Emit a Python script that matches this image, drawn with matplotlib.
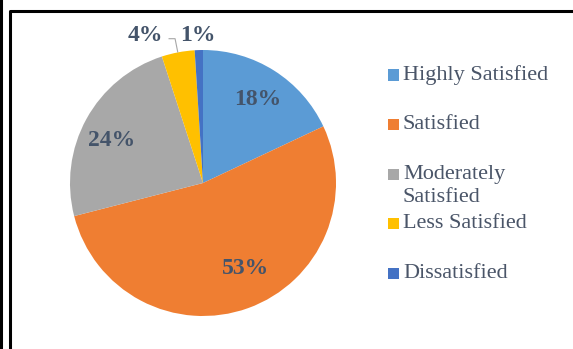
import matplotlib
matplotlib.use("Agg")
import matplotlib.pyplot as plt
from matplotlib.lines import Line2D
from matplotlib.patches import Rectangle

categorias = ["Highly Satisfied", "Satisfied", "Moderately\nSatisfied", "Less Satisfied", "Dissatisfied"]
valores = [18, 53, 24, 4, 1]
cores = ["#5B9BD5", "#EF7E32", "#A8A8A8", "#FFC000", "#4472C4"]

# where the percentage labels sit (pie radius = 1)
pos_rotulos = [(0.41, 0.63), (0.32, -0.64), (-0.69, 0.32), (-0.43, 1.11), (-0.04, 1.11)]

W, H = 573, 349
fig = plt.figure(figsize=(W / 100, H / 100), dpi=100)
fig.patch.set_facecolor("white")

# pie centre ~ (203, 183) px, radius ~133 px
cx, cy, r = 203, 183, 133
ax = fig.add_axes([(cx - r) / W, (H - cy - r) / H, 2 * r / W, 2 * r / H])
wedges, textos, pcts = ax.pie(valores, colors=cores, startangle=90, counterclock=False,
                              autopct="%1.0f%%",
                              textprops=dict(family="Liberation Serif", fontsize=17,
                                             fontweight="bold", color="#44546A"))
ax.set_xlim(-1, 1)
ax.set_ylim(-1, 1)
ax.set_aspect("equal")

for t, p in zip(pcts, pos_rotulos):
    t.set_position(p)

# leader line for the 4% slice
ax.plot([-0.255, -0.21, -0.19], [1.085, 1.085, 0.985], color="#A6A6A6", lw=0.8, clip_on=False)

# legend, drawn by hand
for i, (nome, cor) in enumerate(zip(categorias, cores)):
    y = 75 + 49.5 * i
    fig.add_artist(Rectangle((388 / W, (H - y - 5.5) / H), 11 / W, 11 / H,
                             facecolor=cor, edgecolor="none", transform=fig.transFigure))
    linhas = nome.split("\n")
    for j, linha in enumerate(linhas):
        fig.text(403 / W, (H - y - 23 * j) / H, linha, family="Liberation Serif",
                 fontsize=16, color="#4A5568", va="center", ha="left")

# frame lines
fig.add_artist(Line2D([1 / W, 1 / W], [0, 1], color="black", lw=2.2, transform=fig.transFigure))
fig.add_artist(Line2D([10 / W, 10 / W, 1], [0, (H - 11) / H, (H - 11) / H],
                      color="black", lw=2.2, transform=fig.transFigure))

fig.savefig("out.png", dpi=100)
